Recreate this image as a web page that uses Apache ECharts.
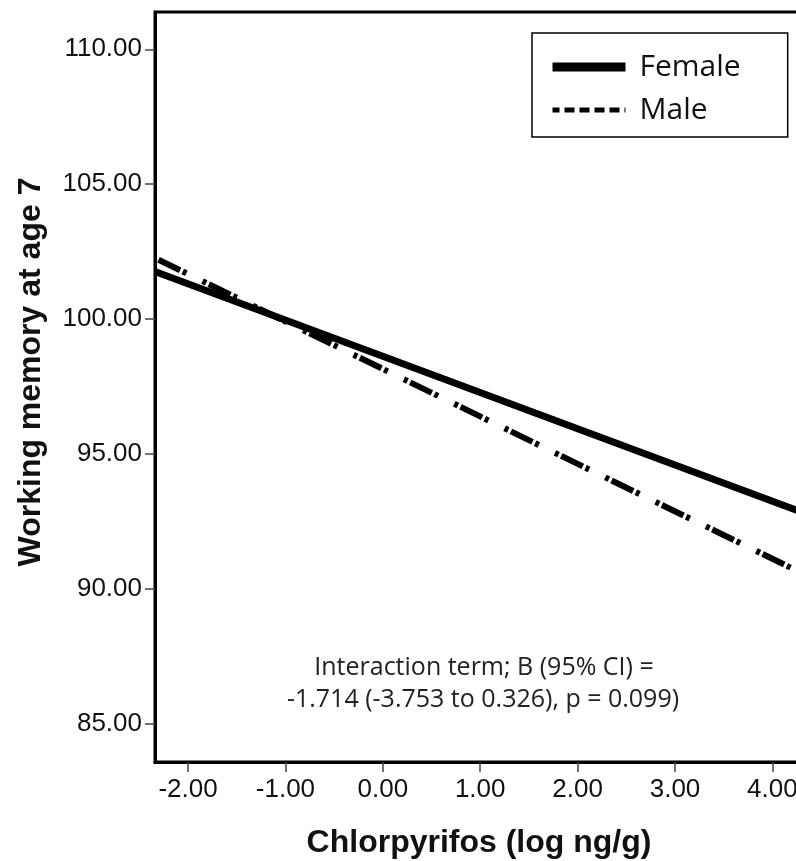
<!DOCTYPE html>
<html><head><meta charset="utf-8">
<script src="https://cdn.jsdelivr.net/npm/echarts@6/dist/echarts.min.js"></script>
<style>html,body{margin:0;padding:0;background:#fff}#c{width:796px;height:861px}</style>
</head><body><div id="c"></div>
<script>
const xTicks = [-2, -1, 0, 1, 2, 3, 4];
const yTicks = [85, 90, 95, 100, 105, 110];
const seriesNames = ['Female', 'Male'];
const femaleLine = [[-2.34, 101.77], [4.34, 92.80]];
const maleLine = [[-2.34, 102.27], [4.34, 90.53]];
const annotation = ['Interaction term; B (95% CI) =', '-1.714 (-3.753 to 0.326), p = 0.099)'];
const xTitle = 'Chlorpyrifos (log ng/g)';
const yTitle = 'Working memory at age 7';

const chart = echarts.init(document.getElementById('c'), null, {renderer: 'canvas'});
const axisFont = {fontFamily: 'Liberation Sans', fontSize: 26, color: '#111'};
chart.setOption({
  animation: false,
  backgroundColor: '#fff',
  color: ['#000', '#000'],
  grid: {left: 155, top: 12, width: 651, height: 750, outerBoundsMode: 'none', containLabel: false,
         show: true, borderColor: '#000', borderWidth: 3, backgroundColor: 'transparent'},
  xAxis: {
    type: 'value', min: -2.339, max: 4.345,
    axisLine: {onZero: false, lineStyle: {color: '#000', width: 3}},
    axisTick: {show: true, length: 10, customValues: xTicks, lineStyle: {color: '#444', width: 1.5}},
    axisLabel: Object.assign({customValues: xTicks, margin: 15, formatter: v => v.toFixed(2)}, axisFont),
    splitLine: {show: false}
  },
  yAxis: {
    type: 'value', min: 83.6, max: 111.38,
    axisLine: {onZero: false, lineStyle: {color: '#000', width: 3}},
    axisTick: {show: true, length: 10, customValues: yTicks, lineStyle: {color: '#444', width: 1.5}},
    axisLabel: Object.assign({customValues: yTicks, margin: 13, formatter: v => v.toFixed(2)}, axisFont),
    splitLine: {show: false}
  },
  legend: {
    orient: 'vertical', left: 532, top: 33,
    padding: [16, 47, 9, 16], borderColor: '#000', borderWidth: 1.5,
    itemWidth: 73, itemHeight: 14, itemGap: 7,
    itemStyle: {opacity: 0},
    textStyle: {fontFamily: 'Open Sans', fontSize: 30, color: '#111', lineHeight: 36, padding: [0, 0, 0, 9]},
    selectedMode: false,
    data: [
      {name: seriesNames[0], lineStyle: {width: 9, color: '#000'}, itemStyle: {opacity: 0}},
      {name: seriesNames[1], lineStyle: {type: [10, 5], width: 5, color: '#000'}, itemStyle: {opacity: 0}}
    ]
  },
  series: [
    {type: 'line', name: seriesNames[0], data: femaleLine, symbol: 'none', z: 2,
     itemStyle: {color: '#000'},
     lineStyle: {color: '#000', width: 7, cap: 'butt'}},
    {type: 'line', name: seriesNames[1], data: maleLine, symbol: 'none', z: 3,
     itemStyle: {color: '#000'},
     lineStyle: {color: '#000', width: 6, cap: 'butt', type: [4, 3, 24, 3, 4, 18], dashOffset: 3}}
  ],
  graphic: [
    {type: 'text', x: 484, y: 668, style: {text: annotation[0], fontFamily: 'Open Sans', fontSize: 25, fill: '#222', align: 'center', verticalAlign: 'middle'}},
    {type: 'text', x: 483, y: 700, style: {text: annotation[1], fontFamily: 'Open Sans', fontSize: 25, fill: '#222', align: 'center', verticalAlign: 'middle'}},
    {type: 'text', x: 479, y: 843, style: {text: xTitle, fontFamily: 'Liberation Sans', fontWeight: 'bold', fontSize: 32, fill: '#111', align: 'center', verticalAlign: 'middle'}},
    {type: 'text', x: 31, y: 372, rotation: Math.PI / 2, style: {text: yTitle, fontFamily: 'Liberation Sans', fontWeight: 'bold', fontSize: 32, fill: '#111', align: 'center', verticalAlign: 'middle'}}
  ]
});
</script></body></html>
